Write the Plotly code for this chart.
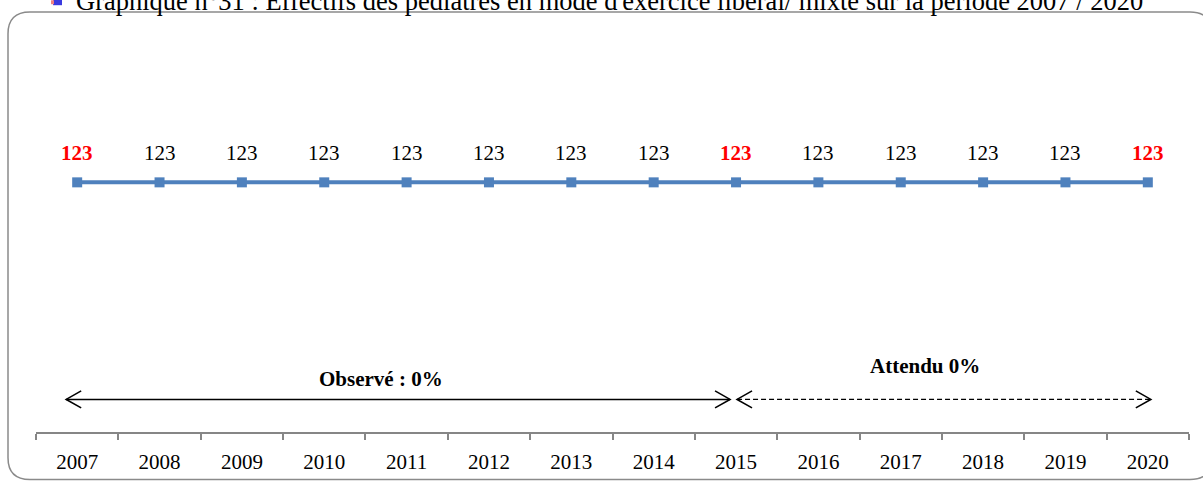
import plotly.graph_objects as go

# Data
years = ["2007", "2008", "2009", "2010", "2011", "2012", "2013",
         "2014", "2015", "2016", "2017", "2018", "2019", "2020"]
effectifs = [123, 123, 123, 123, 123, 123, 123, 123, 123, 123, 123, 123, 123, 123]
highlight_years = ["2007", "2015", "2020"]
observed_label = "Observé : 0%"
expected_label = "Attendu 0%"
title_text = ("Graphique n°31 : Effectifs des pédiatres en mode d'exercice "
              "libéral/ mixte sur la période 2007 / 2020")

# Canvas / plot area geometry (pixels)
W, H = 1203, 486
ML, MR, MT, MB = 36, 14, 22, 49
PW, PH = W - ML - MR, H - MT - MB
X_AXIS_PX = H - MB


def px_x(x):
    return (x - ML) / PW


def px_y(y):
    return (X_AXIS_PX - y) / PH


FONT = "Liberation Serif"
BLUE = "#4f81bd"
GREY = "#868686"

fig = go.Figure()
fig.add_trace(go.Scatter(
    x=years, y=effectifs, mode="lines+markers",
    line=dict(color=BLUE, width=4),
    marker=dict(symbol="square", size=10, color=BLUE),
    hoverinfo="x+y", showlegend=False,
))

annotations = []
# value labels above each point (category index used as x position)
for i, (yr, v) in enumerate(zip(years, effectifs)):
    hot = yr in highlight_years
    annotations.append(dict(
        x=i, y=v, xref="x", yref="y", showarrow=False,
        xanchor="center", yanchor="middle",
        text=f"<b>{v}</b>" if hot else str(v), yshift=29,
        font=dict(family=FONT, size=21, color="#ff0000" if hot else "black"),
    ))

# period labels
annotations.append(dict(
    x=px_x(381), y=px_y(383), xref="paper", yref="paper", showarrow=False,
    xanchor="center", yanchor="middle",
    text=f"<b>{observed_label}</b>", font=dict(family=FONT, size=21, color="black"),
))
annotations.append(dict(
    x=px_x(925), y=px_y(370), xref="paper", yref="paper", showarrow=False,
    xanchor="center", yanchor="middle",
    text=f"<b>{expected_label}</b>", font=dict(family=FONT, size=21, color="black"),
))

# title (partly above the canvas)
annotations.append(dict(
    x=px_x(609), y=px_y(0.5), xref="paper", yref="paper", showarrow=False,
    xanchor="center", yanchor="middle", text=title_text,
    font=dict(family=FONT, size=26.5, color="black"),
))

# period arrows
ARROW_Y = px_y(404)
step = PW / len(years)
i_first = 0
i_split = years.index("2015")
i_last = len(years) - 1
obs_x0 = i_first - 11 / step
obs_x1 = i_split - 6 / step
exp_x0 = i_split + 1 / step
exp_x1 = i_last + 3 / step

shapes = [
    dict(type="line", xref="x", yref="paper", x0=obs_x0, x1=obs_x1,
         y0=ARROW_Y, y1=ARROW_Y, line=dict(color="black", width=1.5)),
    dict(type="line", xref="x", yref="paper", x0=exp_x0, x1=exp_x1,
         y0=ARROW_Y, y1=ARROW_Y, line=dict(color="black", width=1.3, dash="5px,3px")),
]


def chevron(x_tip, direction):
    d = 15 * direction
    return dict(
        type="path", xref="x", yref="paper", xsizemode="pixel", ysizemode="pixel",
        xanchor=x_tip, yanchor=ARROW_Y,
        path=f"M {-d},8.5 L 0,0 L {-d},-8.5",
        line=dict(color="black", width=1.6),
    )


shapes += [chevron(obs_x0, -1), chevron(obs_x1, 1),
           chevron(exp_x0, -1), chevron(exp_x1, 1)]

# rounded frame around the chart
fx0, fx1 = px_x(8), px_x(1212)
fy0, fy1 = px_y(485), px_y(12)
rx, ry = 22 / PW, 22 / PH
frame_path = (
    f"M {fx0 + rx},{fy1} L {fx1 - rx},{fy1} Q {fx1},{fy1} {fx1},{fy1 - ry} "
    f"L {fx1},{fy0 + ry} Q {fx1},{fy0} {fx1 - rx},{fy0} "
    f"L {fx0 + rx},{fy0} Q {fx0},{fy0} {fx0},{fy0 + ry} "
    f"L {fx0},{fy1 - ry} Q {fx0},{fy1} {fx0 + rx},{fy1} Z"
)
shapes.append(dict(type="path", xref="paper", yref="paper", path=frame_path,
                   line=dict(color="#8a8a8a", width=1.5), layer="below"))

# small bullet icon before the title
shapes.append(dict(type="rect", xref="paper", yref="paper",
                   x0=px_x(53), x1=px_x(62), y0=px_y(5), y1=px_y(-2),
                   fillcolor="#3a3adf", line=dict(width=0)))
shapes.append(dict(type="rect", xref="paper", yref="paper",
                   x0=px_x(51), x1=px_x(54), y0=px_y(4), y1=px_y(0),
                   fillcolor="#f08080", line=dict(width=0)))

fig.update_layout(
    width=W, height=H,
    margin=dict(l=ML, r=MR, t=MT, b=MB),
    paper_bgcolor="white", plot_bgcolor="white",
    annotations=annotations, shapes=shapes,
    xaxis=dict(
        type="category", range=[-0.5, len(years) - 0.5],
        showline=True, linecolor=GREY, linewidth=1.5,
        ticks="outside", ticklen=6, tickcolor=GREY, tickwidth=1.5,
        tickson="boundaries", showgrid=False, zeroline=False,
        tickfont=dict(family=FONT, size=21, color="black"),
        ticklabelstandoff=10,
    ),
    yaxis=dict(range=[0, 202], visible=False, fixedrange=True),
)

fig.write_html("out.html")
